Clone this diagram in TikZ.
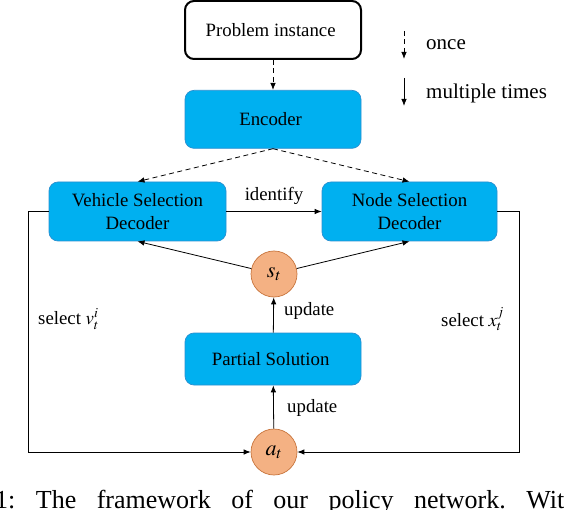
\documentclass[tikz,border=0pt]{standalone}
\usepackage{mathptmx}
\usepackage{fontspec}
\setmainfont{Liberation Serif}
\usepackage{tikz}
\usetikzlibrary{positioning,arrows.meta}

\definecolor{bluefill}{HTML}{00B0F0}
\definecolor{blueedge}{HTML}{2A8FD0}
\definecolor{orangefill}{HTML}{F4B183}
\definecolor{orangeedge}{HTML}{C8743C}

\begin{document}
\begin{tikzpicture}[x = 1pt, y = -1pt,
    every node/.style = { font = \fontsize{18.8}{23}\selectfont },
    blockbox/.style = { draw = blueedge, fill = bluefill, line width = 0.7pt, rounded corners = 9pt,
                        align = center, minimum width = 176pt, minimum height = 58pt, inner sep = 0pt },
    statecirc/.style = { draw = orangeedge, fill = orangefill, line width = 0.7pt, shape = circle,
                         minimum size = 46pt, inner sep = 0pt, font = \fontsize{22}{26}\selectfont },
    flow/.style = { -{Latex[length = 7pt, width = 5.5pt]}, line width = 0.8pt },
    onceflow/.style = { flow, dash pattern = on 5pt off 3.5pt },
    lbl/.style = { anchor = west, inner sep = 0pt } ]
    \useasboundingbox (0, 0) rectangle (564, 510);

    % boxes
    \node [blockbox, draw = black, fill = white, line width = 2pt] (prob) at (273, 30) { Problem instance };
    \node [blockbox, below = 30pt of prob] (enc) { Encoder };
    \node [blockbox, minimum width = 177pt, minimum height = 59pt] (veh) at (137.5, 211.5) { Vehicle Selection \\ Decoder };
    \node [blockbox, minimum width = 175pt, minimum height = 59pt] (nod) at (409.5, 211.5) { Node Selection \\ Decoder };
    \node [statecirc] (st) at (274, 274) { $s_t$ };
    \node [blockbox, minimum height = 52pt] (part) at (273, 359) { Partial Solution };
    \node [statecirc] (at) at (274, 452) { $a_t$ };

    % legend
    \coordinate (oncetop) at (404, 31);
    \coordinate (oncebot) at (404, 59);
    \coordinate (multop) at (404, 78);
    \coordinate (mulbot) at (404, 106);
    \draw [onceflow] (oncetop) -- (oncebot);
    \draw [flow] (multop) -- (mulbot);
    \node [lbl, font = \fontsize{21}{25}\selectfont] (once) at (426, 45) { once };
    \node [lbl, font = \fontsize{21}{25}\selectfont] (multi) at (426, 93) { multiple times };

    % connectors
    \draw [onceflow] (prob) -- (enc);
    \draw [onceflow] (enc.south) -- (veh.north);
    \draw [onceflow] (enc.south) -- (nod.north);
    \draw [flow] (veh.east) -- node [above = 7pt, inner sep = 0pt] (ident) { identify } (nod.west);
    \draw [flow] (st) -- (veh.south);
    \draw [flow] (st) -- (nod.south);
    \draw [flow] (part) -- (st);
    \draw [flow] (at) -- (part);
    \draw [flow] (veh.west) -- ++(-20, 0) |- (at.west);
    \draw [flow] (nod.east) -- ++(22, 0) |- (at.east);

    % labels
    \node [lbl] (upd1) at (284, 311) { update };
    \node [lbl] (upd2) at (287, 408) { update };
    \node [lbl] (selv) at (38, 319) { select $v_t^i$ };
    \node [lbl] (selx) at (441, 319) { select $x_t^j$ };

    % caption, cut by the page
    \node [anchor = base west, inner sep = 0pt, font = \fontsize{26}{30}\selectfont\frenchspacing] (cap) at (-5, 508)
        { \makebox[569pt][s]{1: The framework of our policy network. Wit} };
\end{tikzpicture}
\end{document}
